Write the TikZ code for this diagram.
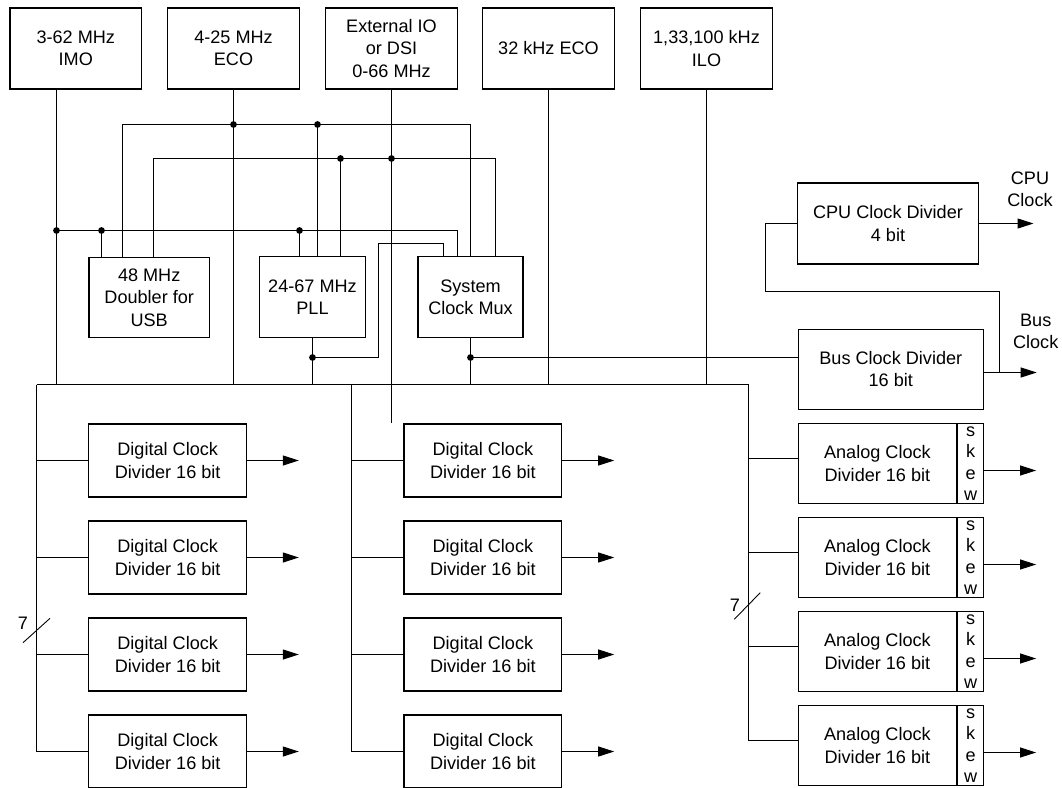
\documentclass[tikz,border=0pt]{standalone}
\usepackage{fontspec}
\setmainfont{Liberation Sans}
\usetikzlibrary{arrows.meta,positioning}

\tikzset{
  txt/.style={font=\fontsize{18.1}{22.3}\selectfont},
  blk/.style={draw, line width=1.2pt, align=center, inner sep=0pt, txt},
  srcbox/.style={blk, minimum width=131.5pt, minimum height=81pt},
  digbox/.style={blk, minimum width=157.8pt, minimum height=73pt},
  anabox/.style={blk, minimum width=157.6pt, minimum height=80.3pt},
  skewbox/.style={blk, anchor=west, minimum width=26.3pt, minimum height=80.3pt,
    font=\fontsize{18.1}{21.4}\selectfont},
  wire/.style={line width=1pt},
  outarrow/.style={wire, -{Triangle[length=16pt,width=10pt]}},
}

\begin{document}
\begin{tikzpicture}[x=1pt,y=-1pt]
  \useasboundingbox (0,0) rectangle (1062,787);
  % Clock sources
  \node[srcbox] (imo) at (75.75,48.5) {3-62 MHz\\IMO};
  \node[srcbox] (eco) at (233.5,48.5) {4-25 MHz\\ECO};
  \node[srcbox] (ext) at (391.5,48.5) {External IO\\or DSI\\0-66 MHz};
  \node[srcbox] (wco) at (548.5,48.5) {32 kHz ECO};
  \node[srcbox] (ilo) at (706.5,48.5) {1,33,100 kHz\\ILO};
  % Doubler, PLL and mux
  \node[blk, minimum width=120.4pt, minimum height=80pt] (dbl) at (149.2,297.7) {48 MHz\\Doubler for\\USB};
  \node[blk, minimum width=105.5pt, minimum height=80.6pt] (pll) at (312.5,297) {24-67 MHz\\PLL};
  \node[blk, minimum width=105.1pt, minimum height=80.6pt] (mux) at (470.5,297) {System\\Clock Mux};
  % CPU and bus dividers
  \node[blk, minimum width=180.6pt, minimum height=81pt] (cpu) at (888,223.5) {CPU Clock Divider\\4 bit};
  \node[blk, minimum width=185pt, minimum height=80pt] (busdiv) at (890.8,369.3) {Bus Clock Divider\\16 bit};
  \node[txt, align=center] (cpulbl) at (1030,189.2) {CPU\\Clock};
  \node[txt, align=center] (buslbl) at (1035.7,331.7) {Bus\\Clock};
  % Peripheral dividers
  \foreach \i in {1,...,4} {
    \node[digbox] (dl\i) at (167.7,{460.5+97*(\i-1)}) {Digital Clock\\Divider 16 bit};
    \node[digbox] (dm\i) at (482.9,{460.5+97*(\i-1)}) {Digital Clock\\Divider 16 bit};
    \node[anabox] (an\i) at (877.4,{463.5+94*(\i-1)}) {Analog Clock\\Divider 16 bit};
    \node[skewbox] (sk\i) at (an\i.east) {s\\k\\e\\w};
  }

  % Rail levels and pins
  \coordinate (ya) at (0,230.5);
  \coordinate (yb) at (0,124.5);
  \coordinate (yc) at (0,158.5);
  \coordinate (yd) at (0,243.5);
  \coordinate (ye) at (0,357.5);
  \coordinate (imoout) at ([xshift=-19.25pt]imo.south);
  \coordinate (dbla) at ([xshift=-47.7pt]dbl.north);
  \coordinate (dblb) at ([xshift=-26.7pt]dbl.north);
  \coordinate (dblc) at ([xshift=4.3pt]dbl.north);
  \coordinate (plla) at ([xshift=-13pt]pll.north);
  \coordinate (pllb) at ([xshift=5pt]pll.north);
  \coordinate (pllc) at ([xshift=28pt]pll.north);
  \coordinate (muxp) at ([xshift=-27pt]mux.north);
  \coordinate (muxa) at ([xshift=-13pt]mux.north);
  \coordinate (muxb) at (mux.north);
  \coordinate (muxc) at ([xshift=25pt]mux.north);
  \coordinate (bus0) at (36.5,384.5);
  \coordinate (bus1) at (748.5,384.5);
  \coordinate (dmbus) at (351.5,384.5);
  \coordinate (extend) at (ext.south |- dm1.north);

  % Main clock bus
  \draw[wire] (bus0) -- (bus1);
  \draw[wire] (imoout) -- (imoout |- bus0);
  \draw[wire] (eco.south) -- (eco.south |- bus0);
  \draw[wire] (wco.south) -- (wco.south |- bus0);
  \draw[wire] (ilo.south) -- (ilo.south |- bus0);
  \draw[wire] (ext.south) -- (extend);
  % IMO rail
  \draw[wire] (imoout |- ya) -| (muxa);
  \draw[wire] (dbla) -- (dbla |- ya);
  \draw[wire] (plla) -- (plla |- ya);
  % ECO rail
  \draw[wire] (dblb) |- (muxb |- yb) -- (muxb);
  \draw[wire] (pllb) -- (pllb |- yb);
  % External rail
  \draw[wire] (dblc) |- (muxc |- yc) -- (muxc);
  \draw[wire] (pllc) -- (pllc |- yc);
  % PLL and mux outputs
  \draw[wire] (pll.south) -- (pll.south |- bus0);
  \draw[wire] (pll.south |- ye) -- ++(66,0) |- (muxp |- yd) -- (muxp);
  \draw[wire] (mux.south) -- (mux.south |- bus0);
  \draw[wire] (mux.south |- ye) -- (busdiv.west |- ye);
  % Junction dots
  \foreach \p in {imoout |- ya, dbla |- ya, plla |- ya, eco.south |- yb, pllb |- yb,
                  pllc |- yc, ext.south |- yc, pll.south |- ye, mux.south |- ye}
    \fill (\p) circle (3.4pt);

  % CPU and bus clock outputs
  \coordinate (busclk) at (1036.7,372.5);
  \coordinate (cpuclk) at (1033.5,223.5);
  \coordinate (tap) at (999.5,291.5);
  \coordinate (cpuin) at (765.5,291.5);
  \draw[outarrow] (busdiv.east |- busclk) -- (busclk);
  \draw[wire] (tap |- busclk) |- (cpuin) |- (cpu.west);
  \draw[outarrow] (cpu.east) -- (cpuclk);

  % Divider buses
  \draw[wire] (bus0) -- (bus0 |- dl4.west);
  \draw[wire] (dmbus) -- (dmbus |- dm4.west);
  \coordinate (ani4) at ([yshift=5pt]an4.west);
  \draw[wire] (bus1) -- (bus1 |- ani4);
  \foreach \i in {1,...,4} {
    \coordinate (dlo\i) at ([xshift=51.6pt]dl\i.east);
    \coordinate (dmo\i) at ([xshift=51.8pt]dm\i.east);
    \coordinate (ani\i) at ([yshift=5pt]an\i.west);
    \coordinate (sko\i) at ([yshift=-7pt]sk\i.east);
    \coordinate (ano\i) at ([xshift=51.8pt]sko\i);
    \draw[wire] (bus0 |- dl\i.west) -- (dl\i.west);
    \draw[outarrow] (dl\i.east) -- (dlo\i);
    \draw[wire] (dmbus |- dm\i.west) -- (dm\i.west);
    \draw[outarrow] (dm\i.east) -- (dmo\i);
    \draw[wire] (bus1 |- ani\i) -- (ani\i);
    \draw[outarrow] (sko\i) -- (ano\i);
  }
  % Bus width marks
  \draw[line width=0.9pt] (23,642.7) -- (50,618.3);
  \node[txt] (wl) at (23,623.5) {7};
  \draw[line width=0.9pt] (734.3,619.3) -- (760.2,592.7);
  \node[txt] (wr) at (735,605) {7};
\end{tikzpicture}
\end{document}
